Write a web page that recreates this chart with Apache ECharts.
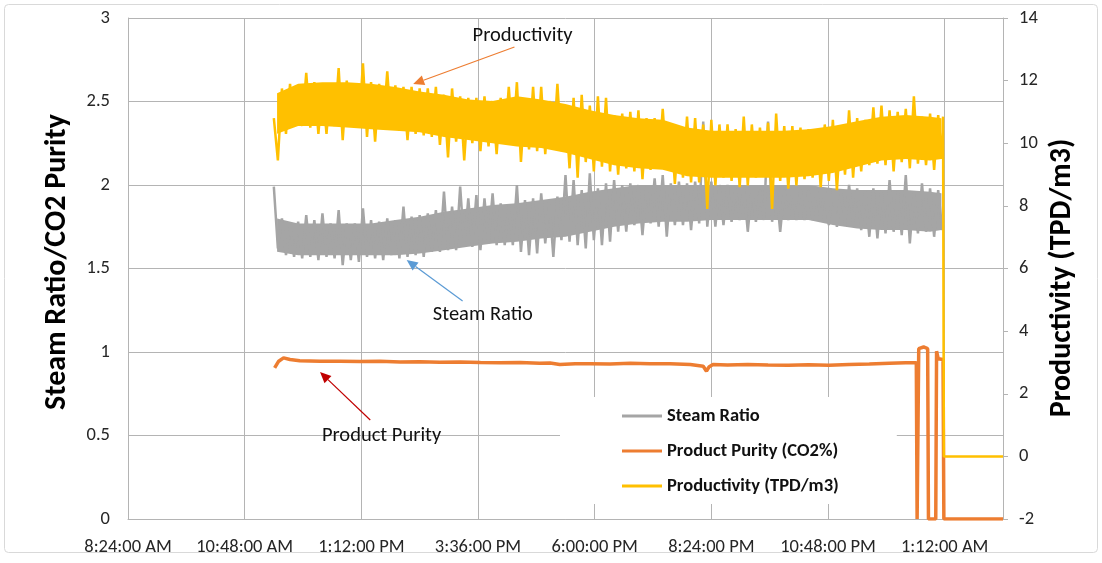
<!DOCTYPE html>
<html>
<head>
<meta charset="utf-8">
<script src="https://cdn.jsdelivr.net/npm/echarts@6/dist/echarts.min.js"></script>
<style>
html,body{margin:0;padding:0;background:#fff;}
#c{width:1102px;height:563px;}
</style>
</head>
<body>
<div id="c"></div>
<script>
// ---- DATA (time in minutes after 8:24 AM) ----
const xTickLabels = ['8:24:00 AM','10:48:00 AM','1:12:00 PM','3:36:00 PM','6:00:00 PM','8:24:00 PM','10:48:00 PM','1:12:00 AM'];
const sampleStart = 180;   // 11:24 AM
const sampleStep = 10;     // minutes between samples

// Productivity (TPD/m3): extremes of the noisy trace, one pair per sample
const prodHi = [10.8,11.75,11.9,11.85,12.25,11.95,11.85,11.9,12.4,12.0,11.9,12.55,11.95,
  11.9,12.3,11.85,11.8,11.8,11.75,11.75,11.8,11.55,11.75,
  11.5,11.45,11.45,11.5,11.35,11.45,11.8,11.95,11.4,11.8,
  11.8,11.35,11.9,11.2,11.45,11.55,11.2,11.5,11.45,10.9,
  10.95,11.0,11.05,10.8,10.8,11.1,10.6,10.55,10.85,10.8,
  10.6,10.75,10.6,10.6,10.45,10.85,10.6,10.5,10.65,10.95,
  10.55,10.55,10.5,10.45,10.45,10.6,10.75,10.55,11.05,10.8,
  10.75,11.15,11.2,11.05,11.0,11.1,11.5,10.85,10.95,10.9];
const prodLo = [9.45,10.3,10.6,10.55,10.5,10.3,10.3,10.55,10.1,10.55,10.5,10.2,10.05,
  10.5,10.45,10.4,10.1,10.3,10.25,10.2,9.95,9.55,10.05,
  9.45,10.0,9.75,9.9,9.65,10.05,9.95,9.4,9.8,9.75,
  9.65,9.8,9.75,9.2,8.9,9.4,9.1,9.25,9.1,9.0,
  9.2,9.1,8.85,9.15,9.25,9.2,8.7,8.9,8.75,8.75,
  7.9,8.65,8.9,8.8,8.6,8.65,8.9,8.95,7.9,8.8,
  8.55,8.65,8.85,8.9,8.6,8.8,8.5,9.0,8.9,9.1,
  9.3,9.35,9.3,9.1,9.4,9.2,9.35,9.3,9.15,9.5];
// productivity after the last sample: final reading, then shut-down to 0
const prodTailTimes = [1006, 1007, 1080];
const prodTailValues = [10.85, 0, 0];

// Steam ratio: extremes per sample
const steamHi = [1.99,1.80,1.76,1.78,1.82,1.79,1.83,1.77,1.85,1.77,1.77,1.86,1.79,
  1.78,1.80,1.79,1.87,1.81,1.82,1.83,1.85,1.96,1.87,
  1.99,1.92,1.94,1.92,1.95,1.89,1.88,2.0,1.91,1.92,
  1.95,1.9,1.93,2.06,2.03,1.97,2.07,1.98,2.01,2.03,
  2.0,2.01,2.0,1.99,2.04,2.06,2.01,2.02,2.01,2.02,
  2.38,2.02,2.0,2.0,1.98,1.99,1.98,1.97,2.38,1.98,
  1.97,1.98,1.98,1.97,1.98,1.98,1.97,1.97,2.0,1.98,
  1.96,1.98,1.97,2.03,1.96,2.06,1.96,2.01,1.98,1.97];
const steamLo = [1.62,1.58,1.57,1.56,1.57,1.55,1.57,1.56,1.52,1.55,1.54,1.57,1.56,
  1.55,1.58,1.56,1.57,1.58,1.57,1.6,1.6,1.61,1.61,
  1.63,1.63,1.61,1.65,1.64,1.64,1.64,1.6,1.58,1.59,
  1.65,1.57,1.67,1.66,1.64,1.62,1.67,1.64,1.66,1.72,
  1.72,1.76,1.70,1.77,1.75,1.69,1.76,1.76,1.73,1.77,
  1.75,1.75,1.76,1.78,1.79,1.72,1.78,1.79,1.78,1.72,
  1.79,1.79,1.79,1.79,1.78,1.76,1.75,1.76,1.77,1.73,
  1.69,1.68,1.71,1.72,1.7,1.65,1.71,1.72,1.69,1.73];

// dense body of each noisy band (where the trace is solid)
const coreTimes = [184,210,240,270,300,330,360,390,420,450,480,510,540,570,600,630,660,690,720,750,780,810,840,870,900,930,960,990,1004];
const prodCoreHi = [11.6,11.9,11.95,11.95,11.9,11.8,11.65,11.55,11.4,11.35,11.5,11.4,11.25,11.05,10.9,10.8,10.75,10.5,10.4,10.4,10.4,10.4,10.45,10.55,10.7,10.85,10.9,10.85,10.8];
const prodCoreLo = [10.3,10.55,10.55,10.5,10.45,10.4,10.35,10.2,10.1,10.0,9.9,9.85,9.7,9.5,9.3,9.2,9.15,8.95,8.9,8.9,8.9,8.9,8.95,9.05,9.25,9.45,9.5,9.45,9.5];
const steamCoreHi = [1.8,1.77,1.77,1.77,1.77,1.79,1.81,1.84,1.86,1.88,1.89,1.91,1.93,1.96,1.98,2.0,2.0,2.0,2.0,2.0,2.0,2.0,2.0,1.98,1.97,1.97,1.97,1.96,1.95];
const steamCoreLo = [1.6,1.58,1.58,1.58,1.58,1.58,1.59,1.61,1.63,1.65,1.66,1.68,1.69,1.72,1.75,1.77,1.78,1.78,1.79,1.79,1.79,1.79,1.79,1.76,1.74,1.73,1.73,1.72,1.73];

// Product purity (CO2 fraction)
const purityTimes = [181,186,192,200,212,237,262,286,311,336,360,385,410,435,459,484,508,521,533,552,570,595,620,644,669,694,710,714,717,722,740,765,790,815,840,865,890,915,940,960,973,974,975,976,982,987,988,997,998,1000,1006,1007,1080];
const purityValues = [0.905,0.945,0.965,0.955,0.948,0.945,0.944,0.943,0.945,0.94,0.942,0.939,0.94,0.937,0.936,0.937,0.932,0.934,0.925,0.93,0.93,0.928,0.932,0.93,0.929,0.925,0.915,0.885,0.91,0.925,0.922,0.925,0.922,0.92,0.923,0.92,0.925,0.928,0.932,0.935,0.935,0,0,1.02,1.03,1.02,0,0,1.005,0.96,0.955,0,0];

// ---- build series data ----
function zigzag(hi, lo){
  const out = [];
  hi.forEach((h, i) => {
    const t = sampleStart + i * sampleStep;
    out.push([t, h]);
    out.push([t + sampleStep / 2, lo[i]]);
  });
  return out;
}
const steamData = zigzag(steamHi, steamLo);
const prodData = zigzag(prodHi, prodLo).concat(prodTailTimes.map((t, i) => [t, prodTailValues[i]]));
const purityData = purityTimes.map((t, i) => [t, purityValues[i]]);

const FONT = 'Carlito, Lato, "Liberation Sans", sans-serif';
const GRID = '#b4b4b4';
const C_STEAM = '#A5A5A5', C_PUR = '#ED7D31', C_PROD = '#FFC000';

// filled body of a noisy band, drawn as one polygon through the axis scales
function bandSeries(id, yIdx, hi, lo, color, z){
  return {
    id: id, type: 'custom', yAxisIndex: yIdx, z: z, silent: true,
    data: [[coreTimes[0], lo[0]]],
    renderItem: function(params, api){
      const pts = [];
      for (let i = 0; i < coreTimes.length; i++) pts.push(api.coord([coreTimes[i], hi[i]]));
      for (let i = coreTimes.length - 1; i >= 0; i--) pts.push(api.coord([coreTimes[i], lo[i]]));
      return {type: 'polygon', shape: {points: pts}, style: {fill: color}};
    }
  };
}

const chart = echarts.init(document.getElementById('c'), null, {renderer: 'canvas'});
chart.setOption({
  animation: false,
  backgroundColor: '#fff',
  textStyle: {fontFamily: FONT},
  grid: {left: 128, right: 99, top: 18, bottom: 44, containLabel: false},
  legend: {
    orient: 'vertical', left: 560, top: 397,
    padding: [9, 58, 8, 62], itemGap: 15, itemWidth: 40, itemHeight: 3,
    icon: 'rect', backgroundColor: '#fff', selectedMode: false,
    textStyle: {fontFamily: FONT, fontSize: 18.5, lineHeight: 20, fontWeight: 'bold', color: '#111'},
    data: ['Steam Ratio', 'Product Purity (CO2%)', 'Productivity (TPD/m3)']
  },
  xAxis: {
    type: 'value', min: 0, max: 1080, interval: 144,
    axisLine: {show: true, lineStyle: {color: GRID}},
    axisTick: {show: false},
    splitLine: {show: true, lineStyle: {color: GRID}},
    axisLabel: {
      margin: 19, fontSize: 18.5, color: '#262626', fontFamily: FONT,
      formatter: v => xTickLabels[Math.round(v / 144)] || ''
    }
  },
  yAxis: [{
    type: 'value', position: 'left', min: 0, max: 3, interval: 0.5,
    axisLine: {show: true, lineStyle: {color: GRID}},
    axisTick: {show: false},
    splitLine: {show: true, lineStyle: {color: GRID}},
    axisLabel: {margin: 18, fontSize: 18.5, color: '#262626', fontFamily: FONT}
  }, {
    type: 'value', position: 'right', min: -2, max: 14, interval: 2,
    axisLine: {show: true, lineStyle: {color: GRID}},
    axisTick: {show: true, inside: false, length: 5, lineStyle: {color: GRID}},
    splitLine: {show: false},
    axisLabel: {margin: 16, fontSize: 18.5, color: '#262626', fontFamily: FONT}
  }],
  series: [
    bandSeries('steamCore', 0, steamCoreHi, steamCoreLo, C_STEAM, 2),
    {
      name: 'Steam Ratio', type: 'line', yAxisIndex: 0, data: steamData,
      symbol: 'none', color: C_STEAM, lineStyle: {width: 2.5, color: C_STEAM}, z: 2
    }, {
      name: 'Product Purity (CO2%)', type: 'line', yAxisIndex: 0, data: purityData,
      symbol: 'none', color: C_PUR, lineStyle: {width: 3.5, color: C_PUR}, z: 3
    },
    bandSeries('prodCore', 1, prodCoreHi, prodCoreLo, C_PROD, 4),
    {
      name: 'Productivity (TPD/m3)', type: 'line', yAxisIndex: 1, data: prodData,
      symbol: 'none', color: C_PROD, lineStyle: {width: 2.5, color: C_PROD}, z: 4
    }
  ]
});

// ---- annotations (anchored in data space: [minutes, left-axis value]) ----
const notes = [
  {text: 'Productivity', at: [487, 2.895], from: [477, 2.826], to: [352, 2.605], color: '#ED7D31'},
  {text: 'Steam Ratio', at: [438, 1.22], from: [413, 1.305], to: [344, 1.551], color: '#5B9BD5'},
  {text: 'Product Purity', at: [313, 0.50], from: [299, 0.593], to: [237, 0.880], color: '#C00000'}
];
const px = p => chart.convertToPixel({xAxisIndex: 0, yAxisIndex: 0}, p);
const graphics = [{
  type: 'rect', silent: true, z: 100,
  shape: {x: 4.5, y: 4.5, width: 1093, height: 548, r: 4},
  style: {fill: 'none', stroke: '#d9d9d9', lineWidth: 1}
}, {
  type: 'text', silent: true, z: 100, x: 57, y: 262, rotation: Math.PI / 2,
  style: {text: 'Steam Ratio/CO2 Purity', fill: '#000', font: 'bold 30px ' + FONT, textAlign: 'center', textVerticalAlign: 'middle'}
}, {
  type: 'text', silent: true, z: 100, x: 1062, y: 278, rotation: Math.PI / 2,
  style: {text: 'Productivity (TPD/m3)', fill: '#000', font: 'bold 30px ' + FONT, textAlign: 'center', textVerticalAlign: 'middle'}
}];
notes.forEach(n => {
  const c = px(n.at), a = px(n.from), b = px(n.to);
  const dx = b[0] - a[0], dy = b[1] - a[1], L = Math.hypot(dx, dy);
  const ux = dx / L, uy = dy / L, hl = 11, hw = 5;
  const bx = b[0] - ux * hl, by = b[1] - uy * hl;
  graphics.push({type: 'line', silent: true, z: 100,
    shape: {x1: a[0], y1: a[1], x2: bx, y2: by},
    style: {stroke: n.color, lineWidth: 1.2}});
  graphics.push({type: 'polygon', silent: true, z: 100,
    shape: {points: [[b[0], b[1]], [bx - uy * hw, by + ux * hw], [bx + uy * hw, by - ux * hw]]},
    style: {fill: n.color}});
  graphics.push({type: 'text', silent: true, z: 100, x: c[0], y: c[1],
    style: {text: n.text, fill: '#111', font: '20.5px ' + FONT, textAlign: 'center', textVerticalAlign: 'middle'}});
});
chart.setOption({graphic: graphics});
</script>
</body>
</html>
